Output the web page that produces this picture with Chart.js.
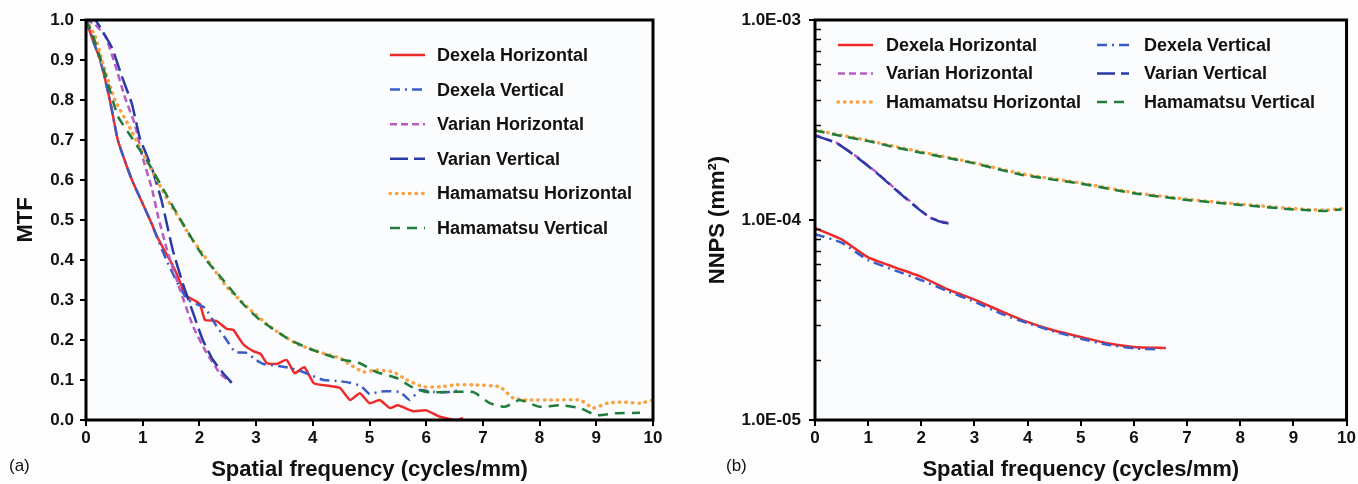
<!DOCTYPE html>
<html>
<head>
<meta charset="utf-8">
<script src="https://cdn.jsdelivr.net/npm/chart.js@4"></script>
<style>
html, body { margin: 0; padding: 0; background: #fdfdfe; }
#wrap { position: relative; width: 1358px; height: 484px; overflow: hidden; }
canvas { position: absolute; top: 0; }
#mtf { left: 0; }
#nnps { left: 680px; }
</style>
</head>
<body>
<div id="wrap">
  <canvas id="mtf" width="680" height="484"></canvas>
  <canvas id="nnps" width="678" height="484"></canvas>
</div>
<script>
// === Data ===
const SERIES = ['Dexela Horizontal', 'Dexela Vertical', 'Varian Horizontal',
                'Varian Vertical', 'Hamamatsu Horizontal', 'Hamamatsu Vertical'];
const X_TICKS = [0, 1, 2, 3, 4, 5, 6, 7, 8, 9, 10];
const MTF_TICKS = [0.0, 0.1, 0.2, 0.3, 0.4, 0.5, 0.6, 0.7, 0.8, 0.9, 1.0];
const NNPS_TICKS = [1e-5, 1e-4, 1e-3];
const NNPS_MINOR = [2, 3, 4, 5, 6, 7, 8, 9];

// (a) MTF, [frequency, MTF]
const mtfDexelaH = [[0,1.0],[0.12,0.95],[0.25,0.9],[0.34,0.85],[0.42,0.8],[0.49,0.75],[0.56,0.7],[0.68,0.65],
  [0.81,0.6],[0.97,0.55],[1.13,0.5],[1.25,0.46],[1.36,0.43],[1.48,0.4],[1.6,0.365],[1.7,0.33],[1.78,0.31],
  [1.9,0.3],[2.01,0.29],[2.1,0.25],[2.3,0.248],[2.48,0.228],[2.6,0.225],[2.77,0.19],[2.95,0.172],[3.08,0.165],
  [3.19,0.142],[3.36,0.14],[3.54,0.15],[3.68,0.117],[3.85,0.132],[4.02,0.092],[4.3,0.085],[4.48,0.08],
  [4.66,0.05],[4.83,0.067],[5.0,0.042],[5.18,0.05],[5.36,0.03],[5.5,0.037],[5.77,0.022],[6.0,0.024],
  [6.24,0.008],[6.54,0.0],[6.65,0.005]];
const mtfDexelaV = [[0,1.0],[0.12,0.95],[0.25,0.9],[0.34,0.85],[0.42,0.8],[0.49,0.75],[0.56,0.7],[0.68,0.65],
  [0.81,0.6],[0.97,0.55],[1.13,0.5],[1.3,0.44],[1.45,0.39],[1.66,0.33],[1.8,0.3],[1.95,0.29],[2.1,0.28],
  [2.3,0.235],[2.48,0.2],[2.63,0.17],[2.83,0.168],[3.0,0.15],[3.13,0.14],[3.4,0.135],[3.6,0.13],[3.83,0.12],
  [4.0,0.11],[4.19,0.1],[4.48,0.097],[4.66,0.093],[4.85,0.085],[5.0,0.065],[5.15,0.07],[5.3,0.072],
  [5.54,0.07],[5.71,0.05],[5.89,0.075],[6.12,0.07],[6.42,0.07],[6.6,0.075]];
const mtfVarianH = [[0,1.0],[0.15,0.99],[0.34,0.96],[0.51,0.89],[0.69,0.805],[0.86,0.74],[0.99,0.66],
  [1.16,0.58],[1.27,0.51],[1.43,0.425],[1.66,0.325],[1.89,0.233],[2.13,0.167],[2.36,0.117],[2.54,0.095]];
const mtfVarianV = [[0,1.0],[0.16,1.0],[0.3,0.97],[0.46,0.93],[0.63,0.86],[0.81,0.79],[0.95,0.705],
  [1.16,0.63],[1.33,0.55],[1.53,0.425],[1.71,0.34],[1.89,0.267],[2.06,0.2],[2.24,0.15],[2.42,0.117],[2.57,0.093]];
const mtfHamaH = [[0,1.0],[0.16,0.96],[0.3,0.89],[0.51,0.8],[0.74,0.74],[0.99,0.67],[1.27,0.595],[1.48,0.54],
  [1.69,0.495],[1.83,0.46],[2.19,0.39],[2.48,0.333],[2.84,0.283],[3.25,0.233],[3.72,0.19],[4.18,0.167],
  [4.48,0.155],[4.66,0.138],[4.9,0.12],[5.12,0.125],[5.42,0.12],[5.66,0.1],[5.95,0.083],[6.24,0.083],
  [6.54,0.088],[6.83,0.088],[7.3,0.083],[7.53,0.055],[7.78,0.05],[8.3,0.05],[8.71,0.05],[8.95,0.03],
  [9.19,0.042],[9.47,0.045],[9.77,0.042],[10,0.05]];
const mtfHamaV = [[0,1.0],[0.1,0.97],[0.25,0.905],[0.39,0.84],[0.56,0.76],[0.81,0.705],[1.09,0.645],
  [1.39,0.57],[1.69,0.495],[2.06,0.41],[2.36,0.36],[2.77,0.29],[3.07,0.25],[3.6,0.2],[4.0,0.175],
  [4.48,0.152],[4.83,0.142],[5.12,0.12],[5.48,0.105],[5.74,0.083],[6.0,0.07],[6.42,0.07],[6.83,0.07],
  [7.12,0.042],[7.39,0.033],[7.65,0.05],[8.0,0.033],[8.36,0.037],[8.71,0.03],[9.0,0.012],[9.36,0.017],[9.77,0.018]];

// (b) NNPS, [frequency, mm^2]
const nnpsDexelaH = [[0,9.1e-5],[0.5,8.0e-5],[1.0,6.5e-5],[1.5,5.8e-5],[2.0,5.2e-5],[2.5,4.5e-5],[3.0,4.0e-5],
  [3.5,3.5e-5],[3.9,3.16e-5],[4.5,2.8e-5],[5.0,2.6e-5],[5.5,2.42e-5],[6.0,2.32e-5],[6.6,2.29e-5]];
const nnpsDexelaV = [[0,8.5e-5],[0.5,7.7e-5],[1.0,6.3e-5],[1.5,5.6e-5],[2.0,5.0e-5],[2.5,4.4e-5],[3.0,3.9e-5],
  [3.5,3.4e-5],[4.0,3.05e-5],[4.5,2.77e-5],[5.0,2.55e-5],[5.5,2.38e-5],[6.0,2.28e-5],[6.5,2.25e-5]];
const nnpsVarianH = [[0,2.66e-4],[0.41,2.43e-4],[0.79,2.07e-4],[1.17,1.72e-4],[1.54,1.41e-4],[1.92,1.16e-4],
  [2.16,1.03e-4],[2.41,9.8e-5],[2.54,9.7e-5]];
const nnpsVarianV = [[0,2.64e-4],[0.41,2.42e-4],[0.79,2.06e-4],[1.17,1.71e-4],[1.54,1.4e-4],[1.92,1.15e-4],
  [2.16,1.03e-4],[2.41,9.7e-5],[2.54,9.6e-5]];
const nnpsHamaH = [[0,2.82e-4],[0.5,2.65e-4],[1.0,2.5e-4],[1.54,2.32e-4],[2.0,2.19e-4],[3.0,1.93e-4],
  [3.9,1.7e-4],[5.0,1.53e-4],[6.0,1.37e-4],[7.0,1.27e-4],[8.0,1.2e-4],[9.0,1.14e-4],[9.6,1.12e-4],[9.9,1.14e-4]];
const nnpsHamaV = [[0,2.8e-4],[0.5,2.63e-4],[1.0,2.48e-4],[1.54,2.3e-4],[2.0,2.17e-4],[3.0,1.92e-4],
  [3.9,1.68e-4],[5.0,1.52e-4],[6.0,1.36e-4],[7.0,1.26e-4],[8.0,1.19e-4],[9.0,1.13e-4],[9.6,1.11e-4],[9.9,1.13e-4]];

// === Styles ===
const FONT = '"Liberation Sans", Arial, sans-serif';
const STYLES = [
  { color: '#ee2a2a', dash: [], width: 2.5 },
  { color: '#3a5cc6', dash: [10, 5, 2, 5], width: 2.5 },
  { color: '#b85cc4', dash: [7, 4], width: 2.5 },
  { color: '#2a3aa6', dash: [18, 6], width: 2.5 },
  { color: '#f8a446', dash: [0.5, 6], width: 3.5, cap: 'round' },
  { color: '#1f7c3a', dash: [10, 7], width: 2.5 },
];

function makeDatasets(series) {
  return series.map((pts, i) => ({
    label: SERIES[i],
    data: pts.map(p => ({ x: p[0], y: p[1] })),
    borderColor: STYLES[i].color,
    borderDash: STYLES[i].dash,
    borderWidth: STYLES[i].width,
    borderCapStyle: STYLES[i].cap || 'butt',
    pointRadius: 0,
    tension: 0.15,
    fill: false,
    order: 6 - i,
  }));
}

// plot background, frame, minor log ticks, panel letter
const framePlugin = {
  id: 'frame',
  beforeDraw(chart) {
    const { ctx, chartArea: a } = chart;
    ctx.save();
    ctx.fillStyle = '#fbfcfe';
    ctx.fillRect(a.left, a.top, a.right - a.left, a.bottom - a.top);
    ctx.restore();
  },
  afterDatasetsDraw(chart, args, opts) {
    const { ctx, chartArea: a } = chart;
    ctx.save();
    ctx.strokeStyle = '#000';
    ctx.lineWidth = 3;
    ctx.strokeRect(a.left, a.top, a.right - a.left, a.bottom - a.top);
    if (opts.minorTicks) {
      const y = chart.scales.y;
      ctx.lineWidth = 1.5;
      NNPS_TICKS.slice(0, -1).forEach(dec => {
        NNPS_MINOR.forEach(m => {
          const py = Math.round(y.getPixelForValue(dec * m)) + 0.5;
          ctx.beginPath();
          ctx.moveTo(a.left, py);
          ctx.lineTo(a.left + 6, py);
          ctx.stroke();
        });
      });
    }
    if (opts.panel) {
      ctx.fillStyle = '#111';
      ctx.font = '17px ' + FONT;
      ctx.textBaseline = 'middle';
      ctx.fillText(opts.panel.text, opts.panel.x, opts.panel.y);
    }
    ctx.restore();
  }
};

// legend drawn inside plot area at fixed spots
const legendPlugin = {
  id: 'insideLegend',
  afterDraw(chart, args, opts) {
    const { ctx } = chart;
    ctx.save();
    ctx.font = 'bold 18px ' + FONT;
    ctx.textBaseline = 'middle';
    chart.data.datasets.forEach((ds, i) => {
      const p = opts.items[i];
      ctx.strokeStyle = ds.borderColor;
      ctx.lineWidth = ds.borderWidth;
      ctx.lineCap = ds.borderCapStyle;
      ctx.setLineDash(ds.borderDash);
      ctx.beginPath();
      ctx.moveTo(p.x, p.y);
      ctx.lineTo(p.x + p.len, p.y);
      ctx.stroke();
      ctx.setLineDash([]);
      ctx.fillStyle = '#111';
      ctx.fillText(ds.label, p.tx, p.y + 1);
    });
    ctx.restore();
  }
};

const tickFont = { family: FONT, size: 17, weight: 'bold' };
const titleFont = { family: FONT, size: 22, weight: 'bold' };
const tickGrid = { drawOnChartArea: false, drawTicks: true, tickLength: 6, color: '#000', lineWidth: 2 };

function xScale() {
  return {
    type: 'linear', min: 0, max: 10,
    afterBuildTicks: s => { s.ticks = X_TICKS.map(v => ({ value: v })); },
    ticks: { color: '#111', font: tickFont, padding: 2, autoSkip: false, maxRotation: 0 },
    grid: tickGrid,
    border: { display: false },
    title: { display: true, text: 'Spatial frequency (cycles/mm)', color: '#111', font: titleFont, padding: { top: 0, bottom: 1 } },
    afterFit: s => { s.height = 64; },
  };
}

// === (a) MTF ===
const leftLegend = SERIES.map((_, i) => ({ x: 390, len: 35, tx: 437, y: 55 + i * 34.6 }));
new Chart(document.getElementById('mtf'), {
  type: 'line',
  data: { datasets: makeDatasets([mtfDexelaH, mtfDexelaV, mtfVarianH, mtfVarianV, mtfHamaH, mtfHamaV]) },
  options: {
    responsive: false, animation: false, devicePixelRatio: 1,
    layout: { padding: { top: 20, right: 27, left: 0, bottom: 0 } },
    plugins: {
      legend: { display: false }, tooltip: { enabled: false },
      insideLegend: { items: leftLegend },
      frame: { panel: { text: '(a)', x: 9, y: 466 } },
    },
    scales: {
      x: xScale(),
      y: {
        type: 'linear', min: 0, max: 1,
        afterBuildTicks: s => { s.ticks = MTF_TICKS.map(v => ({ value: v })); },
        ticks: { color: '#111', font: tickFont, padding: 6, autoSkip: false, callback: v => v.toFixed(1) },
        grid: tickGrid,
        border: { display: false },
        title: { display: true, text: 'MTF', color: '#111', font: titleFont, padding: { top: 13 } },
        afterFit: s => { s.width = 86; },
      },
    },
  },
  plugins: [framePlugin, legendPlugin],
});

// === (b) NNPS ===
const rightLegend = SERIES.map((_, i) => {
  const col = i % 2, row = Math.floor(i / 2);
  return col === 0
    ? { x: 158, len: 35, tx: 206, y: 45 + row * 28.5 }
    : { x: 417, len: 32, tx: 464, y: 45 + row * 28.5 };
});
new Chart(document.getElementById('nnps'), {
  type: 'line',
  data: { datasets: makeDatasets([nnpsDexelaH, nnpsDexelaV, nnpsVarianH, nnpsVarianV, nnpsHamaH, nnpsHamaV]) },
  options: {
    responsive: false, animation: false, devicePixelRatio: 1,
    layout: { padding: { top: 20, right: 11, left: 0, bottom: 0 } },
    plugins: {
      legend: { display: false }, tooltip: { enabled: false },
      insideLegend: { items: rightLegend },
      frame: { minorTicks: true, panel: { text: '(b)', x: 46, y: 466 } },
    },
    scales: {
      x: xScale(),
      y: {
        type: 'logarithmic', min: 1e-5, max: 1e-3,
        afterBuildTicks: s => { s.ticks = NNPS_TICKS.map(v => ({ value: v, major: true })); },
        ticks: {
          color: '#111', font: tickFont, padding: 8, autoSkip: false,
          callback: v => '1.0E-' + String(-Math.round(Math.log10(v))).padStart(2, '0'),
        },
        grid: tickGrid,
        border: { display: false },
        title: { display: true, text: 'NNPS (mm²)', color: '#111', font: titleFont, padding: { top: 25 } },
        afterFit: s => { s.width = 135; },
      },
    },
  },
  plugins: [framePlugin, legendPlugin],
});
</script>
</body>
</html>
